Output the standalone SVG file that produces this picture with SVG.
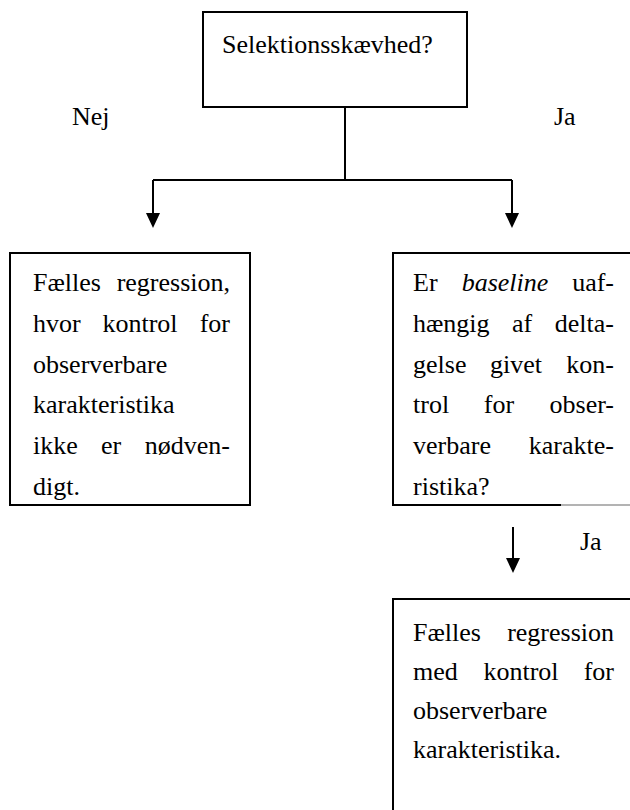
<svg xmlns="http://www.w3.org/2000/svg" width="630" height="810" viewBox="0 0 630 810" font-family="'Liberation Serif', 'Times New Roman', serif">
<style>
text{font-family:'Liberation Serif','Times New Roman',serif;font-size:26px;fill:#000}
.it{font-style:italic}
.m{text-anchor:middle}
.e{text-anchor:end}
.box{fill:none;stroke:#000;stroke-width:2}
.ln{fill:none;stroke:#000;stroke-width:2}
.ah{fill:#000}
</style>
<rect width="630" height="810" fill="#fff"/>

<g id="connectors">
<path class="ln" d="M345,107 V180"/>
<path class="ln" d="M153,180 H512"/>
<path class="ln" d="M153,180 V213"/>
<path class="ah" d="M146,213 L160,213 L153,228 Z"/>
<path class="ln" d="M512,180 V213"/>
<path class="ah" d="M505,213 L519,213 L512,228 Z"/>
<path class="ln" d="M513,527 V558"/>
<path class="ah" d="M506,558 L520,558 L513,573 Z"/>
<text x="72" y="125">Nej</text>
<text x="554" y="125">Ja</text>
<text x="580" y="550">Ja</text>
</g>

<g id="top">
<rect class="box" x="203" y="12" width="264" height="95"/>
<text x="222" y="53">Selektionsskævhed?</text>
</g>

<g id="left">
<rect class="box" x="10" y="253" width="240" height="252"/>
<text x="33" y="291">Fælles</text><text class="e" x="230" y="291">regression,</text>
<text x="33" y="332">hvor</text><text class="m" x="140" y="332">kontrol</text><text class="e" x="230" y="332">for</text>
<text x="33" y="373">observerbare</text>
<text x="33" y="413">karakteristika</text>
<text x="33" y="454">ikke</text><text class="m" x="111" y="454">er</text><text class="e" x="230" y="454">nødven-</text>
<text x="33" y="495">digt.</text>
</g>

<g id="right">
<path class="box" d="M630,253 H393 V505 H561"/>
<path d="M561,505 H630" fill="none" stroke="#9a9a9a" stroke-width="1.5"/>
<text x="413" y="291">Er</text><text class="m it" x="505" y="291">baseline</text><text class="e" x="614" y="291">uaf-</text>
<text x="413" y="332">hængig</text><text class="m" x="522" y="332">af</text><text class="e" x="614" y="332">delta-</text>
<text x="413" y="373">gelse</text><text class="m" x="516" y="373">givet</text><text class="e" x="614" y="373">kon-</text>
<text x="413" y="413">trol</text><text class="m" x="499" y="413">for</text><text class="e" x="614" y="413">obser-</text>
<text x="413" y="454">verbare</text><text class="e" x="614" y="454">karakte-</text>
<text x="413" y="495">ristika?</text>
</g>

<g id="bottom">
<path class="box" d="M393,811 V599 H631"/>
<text x="413" y="641">Fælles</text><text class="e" x="614" y="641">regression</text>
<text x="413" y="680">med</text><text class="m" x="521" y="680">kontrol</text><text class="e" x="614" y="680">for</text>
<text x="413" y="719">observerbare</text>
<text x="413" y="758">karakteristika.</text>
</g>
</svg>
